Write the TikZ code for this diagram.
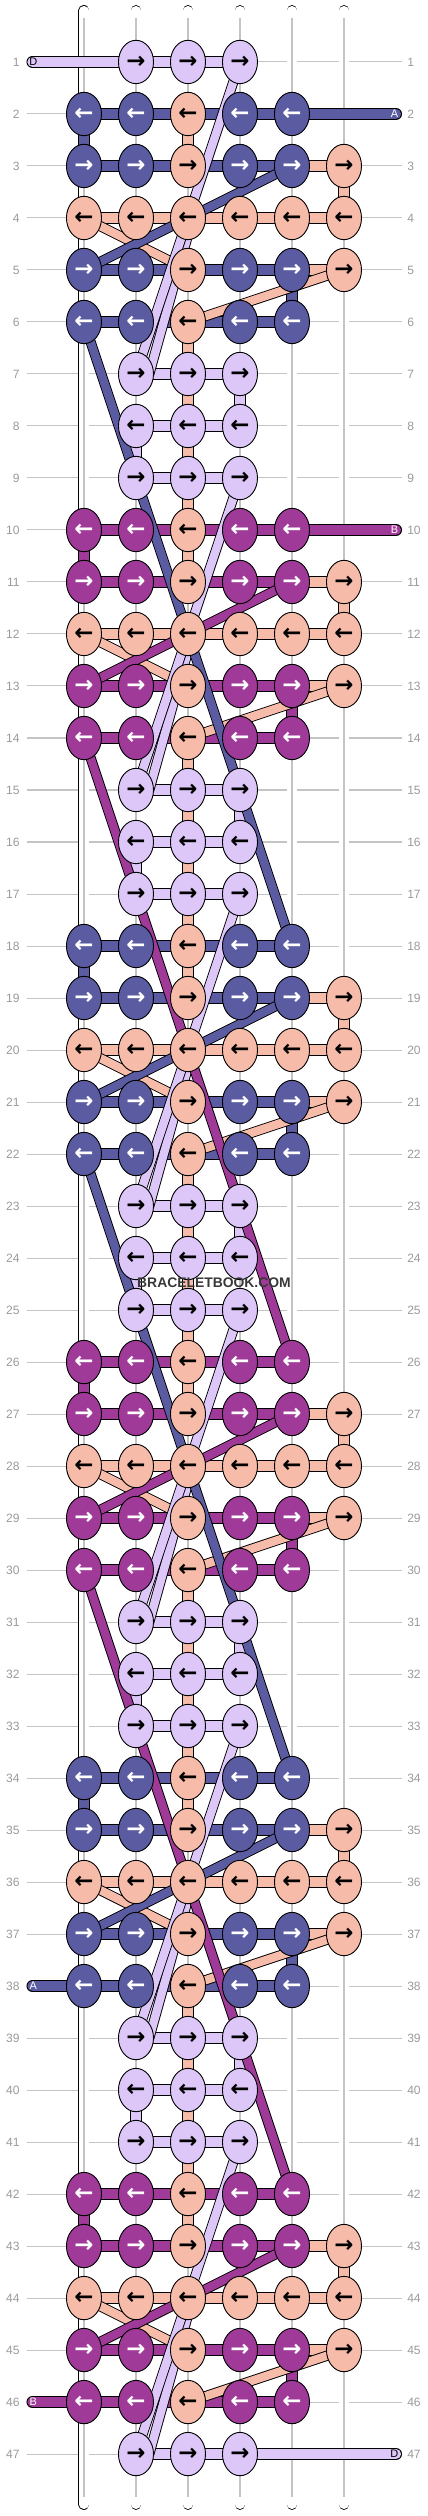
\documentclass[tikz,border=0pt]{standalone}
\usepackage{fontspec}
\setmainfont{Liberation Sans}
\newfontfamily\arrfont{DejaVu Sans}
\usetikzlibrary{shapes.geometric}

\definecolor{lav}{HTML}{DCC7F8}
\definecolor{nav}{HTML}{5A5BA1}
\definecolor{sal}{HTML}{F7BCA9}
\definecolor{pur}{HTML}{A03A98}
\definecolor{lbl}{HTML}{9A9A9A}
\definecolor{gln}{HTML}{C4C4C4}

\pgfdeclarelayer{back}
\pgfdeclarelayer{mid}
\pgfsetlayers{back,mid,main}

\begin{document}
\begin{tikzpicture}[
  knot/.style={ellipse,draw,line width=0.5pt,fill=#1,minimum width=0.674cm,minimum height=0.834cm,inner sep=0pt,font=\arrfont\bfseries\fontsize{12.5}{12.5}\selectfont},
  dk/.style={knot=#1,text=white},
  lt/.style={knot=#1,text=black},
  bar/.style={line width=0.5pt,double=#1,double distance=5.6pt},
  diag/.style={line width=0.5pt,double=#1,double distance=4.6pt},
  tail/.style={bar=#1,line cap=round},
  strand/.style={line width=0.5pt,double=white,double distance=5pt,line cap=round},
  tag/.style={inner sep=0pt,font=\fontsize{6}{6}\selectfont},
  num/.style={inner sep=0pt,text=lbl,font=\fontsize{6.6}{8}\selectfont},
  guide/.style={gln,line width=0.55pt},
  wm/.style={inner sep=0pt,text=black!78,font=\bfseries\fontsize{7.6}{8}\selectfont}]
\useasboundingbox (-1.615,0.192) rectangle (6.615,-48.192);

\foreach \r in {1,...,47}{
  \node[num,anchor=east] (L\r) at (-1.23,-\r) {\r};
  \node[num,anchor=west] (R\r) at (6.21,-\r) {\r};
  \begin{pgfonlayer}{back}
    \draw[guide] ([xshift=0.13cm]L\r.east) -- ([xshift=-0.095cm]R\r.west);
  \end{pgfonlayer}
}

\begin{pgfonlayer}{mid}
\foreach \x in {0,...,5}{
  \coordinate (s\x) at (\x,-0.01);
  \coordinate (e\x) at (\x,-47.97);
  \draw[strand] (s\x) -- (e\x);
  \draw[gln,line width=0.6pt] ([yshift=-0.15cm]s\x) -- ([yshift=0.15cm]e\x);
}
\end{pgfonlayer}

\foreach \r in {1,7,9,15,17,23,25,31,33,39,41,47}
  \foreach \x in {1,2,3}
    \node[lt=lav] (k\r-\x) at (\x,-\r) {→};
\foreach \r in {8,16,24,32,40}
  \foreach \x in {1,2,3}
    \node[lt=lav] (k\r-\x) at (\x,-\r) {←};

\foreach \s/\cl in {2/nav,10/pur,18/nav,26/pur,34/nav,42/pur}{
  \pgfmathtruncatemacro\rA{\s+1}
  \pgfmathtruncatemacro\rB{\s+2}
  \pgfmathtruncatemacro\rC{\s+3}
  \pgfmathtruncatemacro\rD{\s+4}
  \foreach \r in {\s,\rD}{
    \foreach \x in {0,1,3,4}
      \node[dk=\cl] (k\r-\x) at (\x,-\r) {←};
    \node[lt=sal] (k\r-2) at (2,-\r) {←};
  }
  \foreach \r in {\rA,\rC}{
    \foreach \x in {0,1,3,4}
      \node[dk=\cl] (k\r-\x) at (\x,-\r) {→};
    \foreach \x in {2,5}
      \node[lt=sal] (k\r-\x) at (\x,-\r) {→};
  }
  \foreach \x in {0,...,5}
    \node[lt=sal] (k\rB-\x) at (\x,-\rB) {←};
}

\coordinate (tD1) at (-0.99,-1);
\coordinate (tA2) at (6,-2);
\coordinate (tB10) at (6,-10);
\coordinate (tA38) at (-0.99,-38);
\coordinate (tB46) at (-0.99,-46);
\coordinate (tD47) at (6,-47);

\begin{pgfonlayer}{mid}
\foreach \s/\cl in {2/nav,10/pur,18/nav,26/pur,34/nav,42/pur}{
  \pgfmathtruncatemacro\rA{\s+1}
  \pgfmathtruncatemacro\rB{\s+2}
  \pgfmathtruncatemacro\rC{\s+3}
  \pgfmathtruncatemacro\rD{\s+4}
  \foreach \r in {\s,\rA,\rC,\rD}
    \foreach \x/\y in {0/1,1/2,2/3,3/4}
      \draw[bar=\cl] (k\r-\x.center) -- (k\r-\y.center);
  \foreach \r in {\rA,\rC}
    \draw[bar=sal] (k\r-4.center) -- (k\r-5.center);
  \foreach \x/\y in {0/1,1/2,2/3,3/4,4/5}
    \draw[bar=sal] (k\rB-\x.center) -- (k\rB-\y.center);
  \draw[bar=\cl] (k\s-0.center) -- (k\rA-0.center);
  \draw[bar=sal] (k\s-2.center) -- (k\rA-2.center);
  \draw[bar=sal] (k\rA-5.center) -- (k\rB-5.center);
  \draw[bar=\cl] (k\rC-4.center) -- (k\rD-4.center);
}
\foreach \r in {1,7,8,9,15,16,17,23,24,25,31,32,33,39,40,41,47}
  \foreach \x/\y in {1/2,2/3}
    \draw[bar=lav] (k\r-\x.center) -- (k\r-\y.center);
\foreach \r in {7,15,23,31,39}{
  \pgfmathtruncatemacro\rU{\r-1}
  \pgfmathtruncatemacro\rA{\r+1}
  \pgfmathtruncatemacro\rB{\r+2}
  \pgfmathtruncatemacro\rC{\r+3}
  \draw[bar=sal] (k\rU-2.center) -- (k\r-2.center);
  \draw[bar=sal] (k\r-2.center) -- (k\rA-2.center);
  \draw[bar=sal] (k\rA-2.center) -- (k\rB-2.center);
  \draw[bar=sal] (k\rB-2.center) -- (k\rC-2.center);
  \draw[bar=lav] (k\r-3.center) -- (k\rA-3.center);
  \draw[bar=lav] (k\rA-1.center) -- (k\rB-1.center);
}

\draw[tail=lav] (tD1) -- (k1-1.center);
\draw[tail=nav] (k2-4.center) -- (tA2);
\draw[tail=pur] (k10-4.center) -- (tB10);
\draw[tail=nav] (tA38) -- (k38-0.center);
\draw[tail=pur] (tB46) -- (k46-0.center);
\draw[tail=lav] (k47-3.center) -- (tD47);

\foreach \s in {2,10,18,26,34,42}{
  \pgfmathtruncatemacro\rB{\s+2}
  \pgfmathtruncatemacro\rC{\s+3}
  \pgfmathtruncatemacro\rD{\s+4}
  \draw[diag=sal] (k\rB-0.center) -- (k\rC-2.center);
  \draw[diag=sal] (k\rC-5.center) -- (k\rD-2.center);
}
\foreach \r in {1,9,17,25,33,41}{
  \pgfmathtruncatemacro\rM{\r+3}
  \pgfmathtruncatemacro\rE{\r+6}
  \draw[diag=lav] ([yshift=0.1cm]k\rM-2.south) -- ([xshift=0.255cm]k\rE-1.center);
  \draw[diag=lav] (k\r-3.center) -- (k\rE-1.center);
}
\foreach \s/\cl in {2/nav,10/pur,18/nav,26/pur,34/nav,42/pur}{
  \pgfmathtruncatemacro\rA{\s+1}
  \pgfmathtruncatemacro\rC{\s+3}
  \draw[diag=\cl] (k\rA-4.center) -- (k\rC-0.center);
}
\foreach \s/\cl in {2/nav,10/pur,18/nav,26/pur}{
  \pgfmathtruncatemacro\rD{\s+4}
  \pgfmathtruncatemacro\rZ{\s+16}
  \draw[diag=\cl] (k\rD-0.center) -- (k\rZ-4.center);
}
\end{pgfonlayer}

\node[tag] (D1) at (-0.975,-1) {D};
\node[tag,text=white] (A2) at (5.97,-2) {A};
\node[tag,text=white] (B10) at (5.97,-10) {B};
\node[tag,text=white] (A38) at (-0.975,-38) {A};
\node[tag,text=white] (B46) at (-0.975,-46) {B};
\node[tag] (D47) at (5.97,-47) {D};

\node[wm] (bb) at (2.5,-24.48) {BRACELETBOOK.COM};
\end{tikzpicture}
\end{document}
